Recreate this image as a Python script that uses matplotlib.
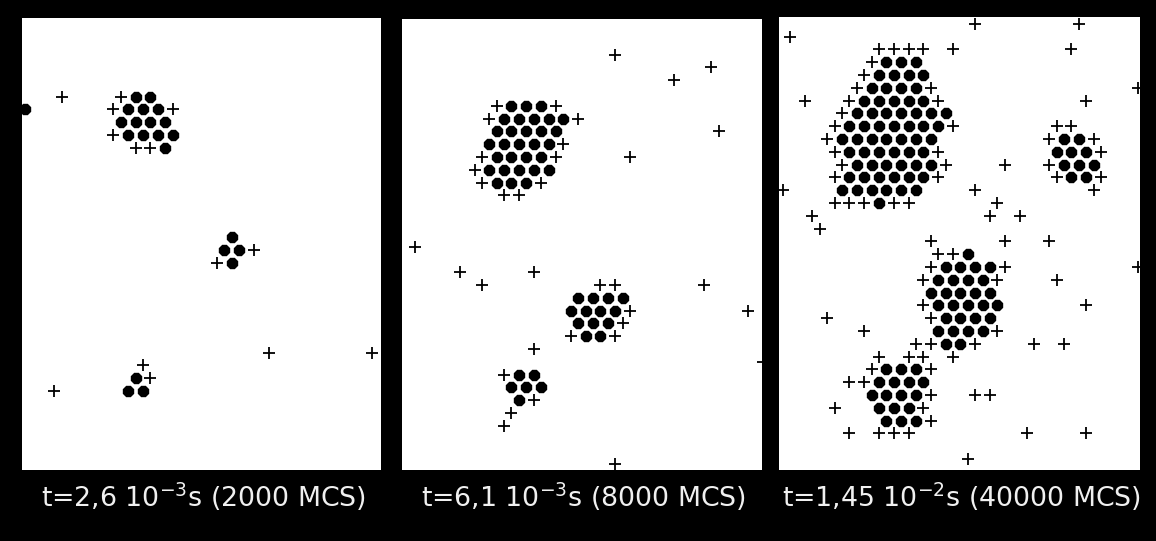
import matplotlib
matplotlib.use("Agg")
import matplotlib.pyplot as plt

# lattice snapshots: (row, first site, pattern) - sites in a row are 2 half-columns apart
# 'o' = particle, '+' = marker, '.' = empty site
panel1_sites = [
    (6, 5, "+...+oo"),
    (7, 0, "o.....+ooo+"),
    (8, 13, "oooo"),
    (9, 12, "+oooo"),
    (10, 15, "++o"),
    (17, 28, "o"),
    (18, 27, "oo+"),
    (19, 26, "+o"),
    (26, 33, "+......+"),
    (27, 16, "+"),
    (28, 15, "o+"),
    (29, 4, "+....oo"),
]

panel2_sites = [
    (2, 28, "+"),
    (3, 41, "+"),
    (4, 36, "+"),
    (6, 12, "+ooo+"),
    (7, 11, "+ooooo+"),
    (8, 12, "ooooo..........+"),
    (9, 11, "ooooo+"),
    (10, 10, "+oooo+....+"),
    (11, 9, "+ooooo"),
    (12, 10, "+ooo+"),
    (13, 13, "++"),
    (17, 1, "+"),
    (19, 7, "+....+"),
    (20, 10, "+.......++.....+"),
    (21, 23, "oooo"),
    (22, 22, "oooo+.......+"),
    (23, 23, "ooo+"),
    (24, 22, "+oo+"),
    (25, 17, "+"),
    (26, 48, "+"),
    (27, 13, "+oo"),
    (28, 14, "ooo"),
    (29, 15, "o+"),
    (30, 14, "+"),
    (31, 13, "+"),
    (34, 28, "+"),
]

panel3_sites = [
    (0, 26, "+......+"),
    (1, 1, "+"),
    (2, 13, "++++.+.......+"),
    (3, 12, "+ooo"),
    (4, 11, "+oooo"),
    (5, 10, "+oooo+.............+"),
    (6, 3, "+..+ooooo+.........+"),
    (7, 8, "+ooooooo"),
    (8, 7, "+ooooooo+......++"),
    (9, 6, "+ooooooo.......+oo+"),
    (10, 7, "+oooooo+.......ooo+"),
    (11, 8, "+oooooo+...+..+ooo"),
    (12, 7, "+oooooo+.......+oo+"),
    (13, 0, "+...oooooo...+.......+"),
    (14, 7, "+++o++.....+"),
    (15, 4, "+...........+.+"),
    (16, 5, "+"),
    (17, 20, "+....+..+"),
    (18, 21, "++o"),
    (19, 20, "+oooo+........+"),
    (20, 19, "+oooo+...+"),
    (21, 20, "ooooo"),
    (22, 19, "+ooooo.....+"),
    (23, 6, "+......+oooo"),
    (24, 11, "+....oooo+"),
    (25, 18, "++oo+...+.+"),
    (26, 13, "+.++.+"),
    (27, 12, "+ooo+"),
    (28, 9, "++oooo"),
    (29, 12, "oooo+..++"),
    (30, 7, "+..ooo+"),
    (31, 14, "ooo+"),
    (32, 9, "+.+++.......+...+"),
    (34, 25, "+"),
]

captions = [
    r"t=2,6 10$^{-3}$s (2000 MCS)",
    r"t=6,1 10$^{-3}$s (8000 MCS)",
    r"t=1,45 10$^{-2}$s (40000 MCS)",
]

W, H = 1156, 541
HX = 7.4    # half of the column spacing, px
DY = 12.8   # row spacing, px

# panel boxes in px: left, top, right, bottom, offset of site (0, 0)
boxes = [
    (22, 18, 381, 470, 2.5, 1.8),
    (401.7, 19.3, 761.7, 470, 6.2, 9.6),
    (779, 17.3, 1140, 470, 3.7, 6.5),
]


def split_sites(rows):
    dots_x, dots_y, plus_x, plus_y = [], [], [], []
    for r, c0, pat in rows:
        for k, ch in enumerate(pat):
            c = c0 + 2 * k
            if ch == "o":
                dots_x.append(c)
                dots_y.append(r)
            elif ch == "+":
                plus_x.append(c)
                plus_y.append(r)
    return dots_x, dots_y, plus_x, plus_y


fig = plt.figure(figsize=(W / 100, H / 100), dpi=100, facecolor="black")

for (l, t, r, b, ox, oy), sites, cap in zip(boxes, [panel1_sites, panel2_sites, panel3_sites], captions):
    ax = fig.add_axes([l / W, 1 - b / H, (r - l) / W, (b - t) / H])
    ax.set_facecolor("white")
    ax.set_xlim(-ox / HX, (r - l - ox) / HX)
    ax.set_ylim((b - t - oy) / DY, -oy / DY)
    ax.set_xticks([])
    ax.set_yticks([])
    for s in ax.spines.values():
        s.set_visible(False)

    dx, dy, px, py = split_sites(sites)
    ax.plot(px, py, "+", color="black", ms=8.2, mew=1.3, ls="none")
    ax.plot(dx, dy, "8", color="black", ms=7.9, ls="none")

    fig.text((l + r) / 2 / W + 2 / W, 1 - 497 / H, cap, color="#f0f0f0",
             fontsize=19.3, ha="center", va="center")

fig.savefig("out.png", dpi=100, facecolor="black")
